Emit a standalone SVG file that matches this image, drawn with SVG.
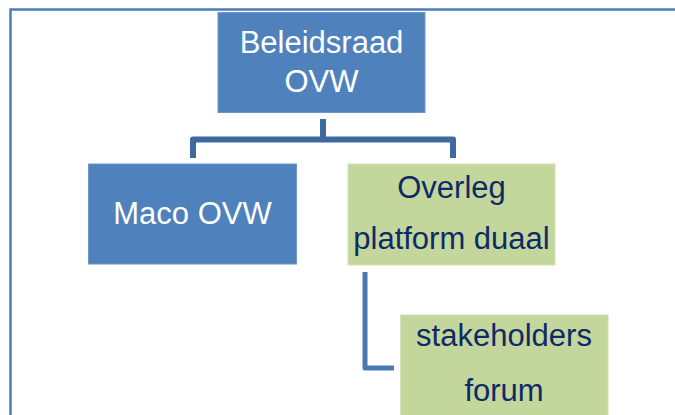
<svg xmlns="http://www.w3.org/2000/svg" width="675" height="415" viewBox="0 0 675 415">
<style>
.blue{fill:#4f81bd;stroke:#6f97c8;stroke-width:1}
.green{fill:#c3d69b;stroke:#d3e1b5;stroke-width:1}
.t{font-family:"Liberation Sans",Arial,sans-serif;font-size:31px;text-anchor:middle}
.tw{fill:#ffffff}
.tn{fill:#0f2a66}
.conn{fill:none;stroke:#3f6a9f;stroke-width:6;stroke-linejoin:round}
.conn2{fill:none;stroke:#4a78b2;stroke-width:5;stroke-linejoin:round}
</style>
<rect width="675" height="415" fill="#ffffff"/>
<path d="M10.5 415 V9.5 H675" fill="none" stroke="#4a7ebb" stroke-width="2.5"/>
<g id="connectors">
<path class="conn" d="M323 119 V139.5"/>
<path class="conn" d="M193 158 V139.5 H453 V158"/>
<path class="conn2" d="M365 272 V368 H394"/>
</g>
<g id="beleidsraad">
<rect class="blue" x="218" y="12.5" width="207" height="100"/>
<text class="t tw" x="321.5" y="53">Beleidsraad</text>
<text class="t tw" x="321.5" y="92">OVW</text>
</g>
<g id="maco">
<rect class="blue" x="88.5" y="164" width="208" height="100"/>
<text class="t tw" x="192.5" y="224">Maco OVW</text>
</g>
<g id="overleg">
<rect class="green" x="348" y="164" width="207" height="101"/>
<text class="t tn" x="451.5" y="198">Overleg</text>
<text class="t tn" x="451.5" y="249">platform duaal</text>
</g>
<g id="stakeholders">
<rect class="green" x="400.5" y="315" width="207.5" height="101"/>
<text class="t tn" x="504" y="346">stakeholders</text>
<text class="t tn" x="504" y="401">forum</text>
</g>
</svg>
